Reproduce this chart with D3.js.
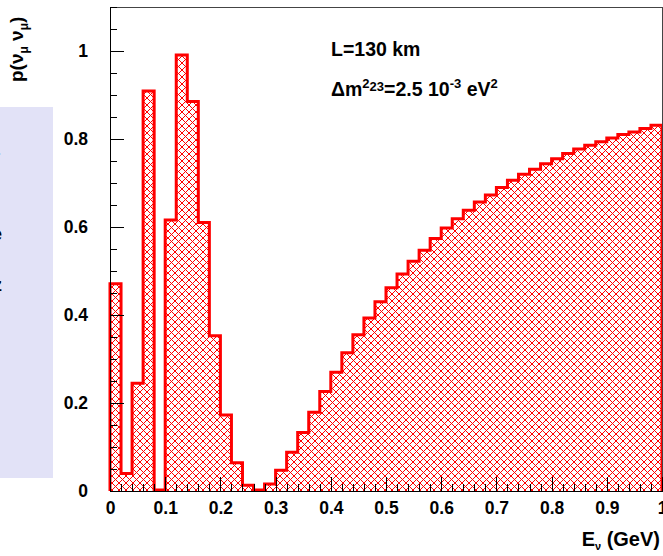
<!DOCTYPE html>
<html>
<head>
<meta charset="utf-8">
<script src="https://cdn.jsdelivr.net/npm/d3@7"></script>
<style>
  body { margin: 0; background: #fff; }
  svg text { font-family: "Liberation Sans", Arial, Helvetica, sans-serif; font-weight: bold; fill: #000; }
  .axis path, .axis line { stroke: #000; shape-rendering: crispEdges; }
  .axis text { font-size: 17.5px; }
</style>
</head>
<body>
<svg id="oscChart" width="663" height="556"></svg>
<script>
// bin layout: 50 bins of 0.02 GeV between 0 and 1 GeV
const binLow = 0;
const binWidth = 0.02;
// survival probability per bin
const probValues = [
  0.471, 0.040, 0.245, 0.909, 0.002, 0.616, 0.991, 0.885, 0.610, 0.353,
  0.173, 0.064, 0.013, 0.002, 0.016, 0.047, 0.088, 0.133, 0.179, 0.226,
  0.270, 0.314, 0.355, 0.393, 0.430, 0.462, 0.493, 0.522, 0.547, 0.574,
  0.598, 0.619, 0.638, 0.657, 0.673, 0.690, 0.706, 0.720, 0.731, 0.744,
  0.755, 0.767, 0.777, 0.786, 0.794, 0.802, 0.810, 0.816, 0.824, 0.831
];
const xMajorTicks = [0, 0.1, 0.2, 0.3, 0.4, 0.5, 0.6, 0.7, 0.8, 0.9, 1];
const xTickLabels = ["0", "0.1", "0.2", "0.3", "0.4", "0.5", "0.6", "0.7", "0.8", "0.9", "1"];
const yMajorTicks = [0, 0.2, 0.4, 0.6, 0.8, 1];
const yTickLabels = ["0", "0.2", "0.4", "0.6", "0.8", "1"];

const svg = d3.select("#oscChart");
const margin = { top: 7, right: 1, bottom: 65, left: 110 };
const width = +svg.attr("width") - margin.left - margin.right;
const height = +svg.attr("height") - margin.top - margin.bottom;

const x = d3.scaleLinear().domain([0, 1]).range([margin.left, margin.left + width]);
const y = d3.scaleLinear().domain([0, 1.1]).range([margin.top + height, margin.top]);

// side pave (only a sliver of it is visible)
svg.append("rect")
  .attr("x", 0).attr("y", 107)
  .attr("width", 53).attr("height", 371)
  .attr("fill", "#e2e2f7");

svg.append("text").attr("x", -7).attr("y", 163).style("font-size", "18px").text("r");
svg.append("text").attr("x", -8).attr("y", 240).style("font-size", "18px").text("e");
svg.append("text").attr("x", -7).attr("y", 291).style("font-size", "18px").text("z");

// hatch pattern: 1px pixel diagonals both ways, 7px period
const hatchSize = 7;
const defs = svg.append("defs");
const pat = defs.append("pattern")
  .attr("id", "xhatch")
  .attr("patternUnits", "userSpaceOnUse")
  .attr("width", hatchSize).attr("height", hatchSize);
const px = d3.range(hatchSize).flatMap(i => [[i, i], [hatchSize - 1 - i, i]]);
pat.append("path")
  .attr("d", px.map(p => `M${p[0]},${p[1]}h1v1h-1z`).join(""))
  .attr("fill", "#ff0000")
  .attr("shape-rendering", "crispEdges");

// histogram as a step outline
const bins = probValues.map((p, i) => ({ lo: binLow + i * binWidth, hi: binLow + (i + 1) * binWidth, p: p }));
const steps = [[bins[0].lo, 0]];
bins.forEach(b => { steps.push([b.lo, b.p]); steps.push([b.hi, b.p]); });
steps.push([bins[bins.length - 1].hi, 0]);

const line = d3.line().x(d => x(d[0])).y(d => y(d[1]));

svg.append("path")
  .datum(steps)
  .attr("d", line)
  .attr("fill", "url(#xhatch)")
  .attr("stroke", "none");

svg.append("path")
  .datum(steps)
  .attr("d", line)
  .attr("fill", "none")
  .attr("stroke", "#ff0000")
  .attr("stroke-width", 3)
  .attr("stroke-linejoin", "miter");

// frame (top and right)
svg.append("path")
  .attr("d", `M${x(0)},${y(1.1)} H${x(1)} V${y(0)}`)
  .attr("fill", "none")
  .attr("stroke", "#444")
  .attr("stroke-width", 1)
  .attr("shape-rendering", "crispEdges");

// x axis: minor then major ticks, drawn inward
const xMinor = d3.range(0, 51).map(i => i * 0.02).filter(v => !xMajorTicks.some(t => Math.abs(t - v) < 1e-9));
svg.append("g")
  .attr("class", "axis")
  .attr("transform", `translate(0,${y(0)})`)
  .call(d3.axisBottom(x).tickValues(xMinor).tickSize(-7).tickSizeOuter(0).tickFormat(""));
svg.append("g")
  .attr("class", "axis")
  .attr("transform", `translate(0,${y(0)})`)
  .call(d3.axisBottom(x).tickValues(xMajorTicks).tickSize(-14).tickSizeOuter(0).tickPadding(11)
    .tickFormat((d, i) => xTickLabels[i]));

// y axis
const yMinor = d3.range(0, 23).map(i => i * 0.05).filter(v => !yMajorTicks.some(t => Math.abs(t - v) < 1e-9));
svg.append("g")
  .attr("class", "axis")
  .attr("transform", `translate(${x(0)},0)`)
  .call(d3.axisLeft(y).tickValues(yMinor).tickSize(-7).tickSizeOuter(0).tickFormat(""));
svg.append("g")
  .attr("class", "axis")
  .attr("transform", `translate(${x(0)},0)`)
  .call(d3.axisLeft(y).tickValues(yMajorTicks).tickSize(-14).tickSizeOuter(0).tickPadding(22)
    .tickFormat((d, i) => yTickLabels[i]));

svg.selectAll(".axis .tick text").attr("fill", "#000");

// axis titles
const xt = svg.append("text")
  .attr("x", 660).attr("y", 546)
  .attr("text-anchor", "end")
  .style("font-size", "20px");
xt.append("tspan").text("E");
xt.append("tspan").attr("baseline-shift", "-40%").style("font-size", "11px").text("ν");
xt.append("tspan").text(" (GeV)");

const yt = svg.append("text")
  .attr("transform", "translate(23,82) rotate(-90)")
  .attr("text-anchor", "start")
  .style("font-size", "19px");
yt.append("tspan").text("p(ν");
yt.append("tspan").attr("baseline-shift", "-40%").style("font-size", "12px").text("μ");
yt.append("tspan").text(" ν");
yt.append("tspan").attr("baseline-shift", "-40%").style("font-size", "12px").text("μ");
yt.append("tspan").text(")");

// annotations
svg.append("text")
  .attr("x", 331).attr("y", 56)
  .style("font-size", "19.5px")
  .text("L=130 km");

const dm = svg.append("text")
  .attr("x", 331).attr("y", 96)
  .style("font-size", "19.5px");
dm.append("tspan").text("Δm");
dm.append("tspan").attr("dy", -8).style("font-size", "13px").text("2");
dm.append("tspan").attr("dy", 3).style("font-size", "13px").text("23");
dm.append("tspan").attr("dy", 5).text("=2.5 10");
dm.append("tspan").attr("dy", -8).style("font-size", "13px").text("-3");
dm.append("tspan").attr("dy", 8).text(" eV");
dm.append("tspan").attr("dy", -8).style("font-size", "13px").text("2");
</script>
</body>
</html>
